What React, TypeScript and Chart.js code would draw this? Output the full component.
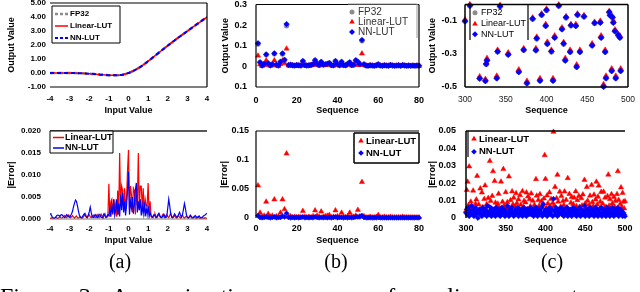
import React, { useEffect, useRef } from 'react';
import { Chart, registerables } from 'chart.js';
Chart.register(...registerables);

const W = 640;
const H = 292;
const SANS = "'Liberation Sans', Arial, sans-serif";
const SERIF = "'Liberation Serif', 'Times New Roman', serif";
const RED = '#ff0000';
const BLUE = '#0000ff';
const GRAY = '#8c8c8c';

// ---------- (a) top: activation output vs input ----------
const inputA = [-4, -3.5, -3, -2.5, -2, -1.5, -1, -0.5, 0, 0.5, 1, 1.5, 2, 2.5, 3, 3.5, 4];
const fp32A = [-0.0001, -0.0008, -0.004, -0.0155, -0.0455, -0.1002, -0.1587, -0.1543, 0, 0.3457, 0.8413, 1.3998, 1.9545, 2.4845, 2.996, 3.4992, 3.9999];
const linA = [-0.0002, -0.0009, -0.0042, -0.0152, -0.0448, -0.0995, -0.1579, -0.1551, 0.0012, 0.3449, 0.8421, 1.4005, 1.9551, 2.4839, 2.9966, 3.4987, 4.0001];
const nnA = [0.0011, -0.0001, -0.0034, -0.0159, -0.0461, -0.1008, -0.1581, -0.1537, 0.0009, 0.3462, 0.8405, 1.4003, 1.9549, 2.4851, 2.9955, 3.4996, 3.9987];

// ---------- (a) bottom: |error| vs input (grid -4..4 step 0.05) ----------
const errInputA = Array.from({ length: 161 }, (_, i) => Math.round((-4 + i * 0.05) * 100) / 100);
const errLinA = [
  0.0002, 0.0001, 0.0003, 0.0002, 0.0001, 0.0003, 0.0004, 0.0002, 0.0001, 0.0003, 0.0005, 0.0003, 0.0002, 0.0004, 0.0006, 0.0008, 0.0005, 0.0003, 0.0006, 0.0009,
  0.0006, 0.0003, 0.0005, 0.0008, 0.0004, 0.0002, 0.0005, 0.0007, 0.0003, 0.0002, 0.0004, 0.0006, 0.0003, 0.0002, 0.0005, 0.0008, 0.0012, 0.0006, 0.0003, 0.0007,
  0.001, 0.0005, 0.0003, 0.0006, 0.0009, 0.0005, 0.0003, 0.0006, 0.001, 0.0006, 0.0003, 0.0007, 0.0011, 0.0006, 0.0003, 0.0008, 0.0012, 0.0005, 0.0004, 0.0006,
  0.008, 0.0005, 0.004, 0.0045, 0.001, 0.0045, 0.002, 0.0035, 0.0005, 0.0065, 0.001, 0.015, 0.003, 0.0075, 0.0065, 0.002, 0.007, 0.003, 0.0045, 0.011,
  0.0157, 0.002, 0.0075, 0.0055, 0.0015, 0.007, 0.0065, 0.001, 0.0075, 0.003, 0.015, 0.002, 0.0075, 0.0075, 0.0025, 0.007, 0.0015, 0.0045, 0.003, 0.003,
  0.0082, 0.001, 0.004, 0.0006, 0.0006, 0.0003, 0.0008, 0.0012, 0.0006, 0.0003, 0.0007, 0.0011, 0.0005, 0.0003, 0.0006, 0.001, 0.0005, 0.0003, 0.0007, 0.001,
  0.0006, 0.0003, 0.0008, 0.0013, 0.0006, 0.0003, 0.0005, 0.0009, 0.0004, 0.0002, 0.0005, 0.0008, 0.0004, 0.0002, 0.0006, 0.0009, 0.0004, 0.0002, 0.0005, 0.0007,
  0.0003, 0.0002, 0.0005, 0.0007, 0.0003, 0.0002, 0.0004, 0.0006, 0.0003, 0.0001, 0.0003, 0.0005, 0.0002, 0.0001, 0.0003, 0.0004, 0.0002, 0.0001, 0.0003, 0.0002,
  0.0001,
];
const errNNA = [
  0.0013, 0.001, 0.0006, 0.0003, 0.0001, 0.0002, 0.0005, 0.0008, 0.0009, 0.0008, 0.0006, 0.0009, 0.001, 0.0008, 0.0005, 0.0003, 0.0006, 0.001, 0.0008, 0.0005,
  0.0004, 0.0008, 0.0012, 0.0018, 0.0028, 0.0036, 0.0043, 0.004, 0.003, 0.0018, 0.0008, 0.0004, 0.0002, 0.0005, 0.0009, 0.0012, 0.0008, 0.0004, 0.0003, 0.0009,
  0.0016, 0.0027, 0.0015, 0.0005, 0.0003, 0.0006, 0.001, 0.0007, 0.0003, 0.0005, 0.0011, 0.0009, 0.0004, 0.0003, 0.0008, 0.0012, 0.0007, 0.0003, 0.0006, 0.001,
  0.0008, 0.0025, 0.0005, 0.003, 0.0012, 0.0045, 0.0008, 0.002, 0.0045, 0.001, 0.0035, 0.0006, 0.0055, 0.002, 0.006, 0.0015, 0.004, 0.0008, 0.003, 0.0065,
  0.0108, 0.001, 0.004, 0.0025, 0.005, 0.0012, 0.0035, 0.0065, 0.0082, 0.0015, 0.004, 0.002, 0.0045, 0.0008, 0.003, 0.0012, 0.0038, 0.0006, 0.0025, 0.001,
  0.003, 0.0005, 0.0015, 0.0008, 0.0003, 0.0006, 0.001, 0.0007, 0.0003, 0.0005, 0.001, 0.0013, 0.0008, 0.0004, 0.0003, 0.0007, 0.0011, 0.0006, 0.0003, 0.0005,
  0.0025, 0.0045, 0.003, 0.0012, 0.0004, 0.0003, 0.0007, 0.0012, 0.0008, 0.0004, 0.0005, 0.001, 0.0015, 0.0009, 0.0004, 0.001, 0.0022, 0.0035, 0.0024, 0.001,
  0.0004, 0.0002, 0.0005, 0.0009, 0.0006, 0.0003, 0.0002, 0.0005, 0.0008, 0.0005, 0.0003, 0.0005, 0.0007, 0.0004, 0.0002, 0.0003, 0.0006, 0.0008, 0.0009, 0.0011,
  0.0013,
];

// ---------- (b) sequence 1..80 ----------
const seqB = Array.from({ length: 80 }, (_, i) => i + 1);
const fp32B = [
  0.108, 0.019, 0.004, 0.011, 0.056, 0.014, 0.005, 0.009, 0.061, 0.008, 0.004, 0.021, 0.06, 0.03, 0.197, 0.006, 0.008, 0.005, 0.004, 0.006,
  0.005, 0.004, 0.025, 0.006, 0.004, 0.005, 0.007, 0.01, 0.029, 0.012, 0.006, 0.021, 0.008, 0.01, 0.012, 0.016, 0.006, 0.005, 0.025, 0.01,
  0.005, 0.021, 0.006, 0.005, 0.012, 0.019, 0.006, 0.008, 0.029, 0.021, 0.01, 0.124, 0.01, 0.004, 0.003, 0.005, 0.004, 0.003, 0.005, 0.01,
  0.004, 0.003, 0.005, 0.004, 0.003, 0.007, 0.004, 0.003, 0.004, 0.005, 0.003, 0.006, 0.004, 0.003, 0.004, 0.003, 0.004, 0.003, 0.004, 0.003,
];
const linB = [
  0.052, 0.01, 0.002, 0.007, 0.028, 0.007, 0.003, 0.005, 0.029, 0.005, 0.002, 0.012, 0.028, 0.015, 0.086, 0.004, 0.005, 0.004, 0.002, 0.005,
  0.003, 0.003, 0.013, 0.004, 0.003, 0.003, 0.006, 0.007, 0.016, 0.008, 0.004, 0.01, 0.006, 0.007, 0.008, 0.011, 0.005, 0.003, 0.012, 0.007,
  0.004, 0.012, 0.004, 0.004, 0.009, 0.01, 0.004, 0.006, 0.025, 0.007, 0.007, 0.062, 0.007, 0.003, 0.002, 0.004, 0.003, 0.002, 0.003, 0.005,
  0.003, 0.002, 0.004, 0.003, 0.002, 0.005, 0.003, 0.002, 0.003, 0.004, 0.002, 0.004, 0.003, 0.002, 0.003, 0.002, 0.003, 0.002, 0.003, 0.002,
];
const nnB = [
  0.112, 0.02, 0.004, 0.012, 0.058, 0.015, 0.005, 0.01, 0.063, 0.008, 0.004, 0.022, 0.063, 0.032, 0.205, 0.006, 0.008, 0.005, 0.004, 0.006,
  0.005, 0.004, 0.026, 0.006, 0.004, 0.005, 0.007, 0.01, 0.03, 0.012, 0.006, 0.022, 0.008, 0.01, 0.012, 0.016, 0.006, 0.005, 0.026, 0.01,
  0.005, 0.022, 0.006, 0.005, 0.012, 0.02, 0.006, 0.008, 0.03, 0.022, 0.01, 0.128, 0.01, 0.004, 0.003, 0.005, 0.004, 0.003, 0.005, 0.01,
  0.004, 0.003, 0.005, 0.004, 0.003, 0.007, 0.004, 0.003, 0.004, 0.005, 0.003, 0.006, 0.004, 0.003, 0.004, 0.003, 0.004, 0.003, 0.004, 0.003,
];
const errLinB = [
  0.056, 0.009, 0.002, 0.004, 0.028, 0.007, 0.002, 0.004, 0.032, 0.003, 0.002, 0.009, 0.032, 0.015, 0.111, 0.002, 0.003, 0.001, 0.002, 0.001,
  0.002, 0.001, 0.012, 0.002, 0.001, 0.002, 0.001, 0.003, 0.013, 0.004, 0.002, 0.011, 0.002, 0.003, 0.004, 0.005, 0.001, 0.002, 0.013, 0.003,
  0.001, 0.009, 0.002, 0.001, 0.003, 0.009, 0.002, 0.002, 0.004, 0.014, 0.003, 0.062, 0.003, 0.001, 0.001, 0.002, 0.001, 0.001, 0.002, 0.005,
  0.001, 0.001, 0.002, 0.001, 0.001, 0.002, 0.001, 0.001, 0.001, 0.001, 0.001, 0.002, 0.001, 0.001, 0.001, 0.001, 0.001, 0.001, 0.001, 0.001,
];
const errNNB = [
  0.004, 0.001, 0.0005, 0.001, 0.002, 0.001, 0.0005, 0.001, 0.002, 0.0005, 0.001, 0.001, 0.003, 0.002, 0.008, 0.001, 0.0005, 0.001, 0.0005, 0.001,
  0.0005, 0.001, 0.002, 0.0005, 0.001, 0.0005, 0.001, 0.0005, 0.002, 0.001, 0.0005, 0.001, 0.0005, 0.001, 0.0005, 0.001, 0.0005, 0.001, 0.002, 0.0005,
  0.001, 0.001, 0.0005, 0.001, 0.0005, 0.001, 0.0005, 0.001, 0.002, 0.002, 0.002, 0.004, 0.001, 0.0005, 0.0005, 0.0005, 0.0005, 0.0005, 0.0005, 0.001,
  0.0005, 0.0005, 0.0005, 0.0005, 0.0005, 0.0005, 0.0005, 0.0005, 0.0005, 0.0005, 0.0005, 0.0005, 0.0005, 0.0005, 0.0005, 0.0005, 0.0005, 0.0005, 0.0005, 0.0005,
];

// ---------- (c) top: sequence 300..500 (visible points) ----------
const seqC = [300, 306, 318, 325, 326, 327, 339, 340, 343, 353, 366, 372, 376, 383, 387, 388, 392, 394, 399, 400, 401, 406, 408, 410, 415, 419, 421, 423, 424, 429, 430, 436, 437, 438, 441, 446, 456, 459, 466, 467, 470, 472, 473, 477, 478, 480, 481, 482, 484, 485, 488, 490, 491];
const fp32C = [-0.1, -0.008, -0.447, -0.462, -0.362, -0.338, -0.445, -0.286, -0.012, -0.302, -0.407, -0.276, -0.476, -0.088, -0.276, -0.207, -0.46, -0.064, -0.128, -0.035, -0.237, -0.286, -0.46, -0.199, -0.009, -0.148, -0.239, -0.338, -0.08, -0.286, -0.128, -0.128, -0.377, -0.064, -0.286, -0.074, -0.247, -0.114, -0.108, -0.199, -0.496, -0.286, -0.445, -0.048, -0.064, -0.401, -0.08, -0.108, -0.16, -0.445, -0.187, -0.199, -0.401];
const linC = [-0.092, 0.0, -0.437, -0.452, -0.352, -0.326, -0.433, -0.276, -0.004, -0.292, -0.395, -0.266, -0.464, -0.08, -0.266, -0.197, -0.448, -0.056, -0.12, -0.027, -0.227, -0.276, -0.448, -0.189, -0.001, -0.14, -0.229, -0.326, -0.072, -0.276, -0.12, -0.12, -0.365, -0.056, -0.276, -0.066, -0.237, -0.106, -0.1, -0.189, -0.484, -0.276, -0.433, -0.04, -0.056, -0.389, -0.072, -0.1, -0.152, -0.433, -0.179, -0.189, -0.389];
const nnC = [-0.101, -0.006, -0.449, -0.463, -0.36, -0.34, -0.447, -0.285, -0.01, -0.304, -0.409, -0.275, -0.478, -0.086, -0.278, -0.205, -0.462, -0.062, -0.13, -0.033, -0.239, -0.284, -0.462, -0.201, -0.007, -0.15, -0.237, -0.34, -0.078, -0.288, -0.126, -0.13, -0.379, -0.062, -0.288, -0.072, -0.249, -0.112, -0.11, -0.201, -0.498, -0.288, -0.447, -0.046, -0.066, -0.403, -0.078, -0.11, -0.162, -0.447, -0.185, -0.201, -0.403];

// ---------- (c) bottom: |error| for sequence 300..500 ----------
const seqE = Array.from({ length: 201 }, (_, i) => 300 + i);
const errLinC = [
  0.0042, 0.0161, 0.0208, 0.0073, 0.0296, 0.0025, 0.0094, 0.0058, 0.0063, 0.0157, 0.0036, 0.0018, 0.0081, 0.0106, 0.0242, 0.0039, 0.0077, 0.0044, 0.0169, 0.0051,
  0.0146, 0.0062, 0.0028, 0.0109, 0.0187, 0.0052, 0.0079, 0.0034, 0.0115, 0.0066, 0.0327, 0.0098, 0.0049, 0.0127, 0.0268, 0.0047, 0.0212, 0.0088, 0.0031, 0.0069,
  0.0082, 0.0139, 0.0056, 0.0024, 0.0209, 0.0041, 0.0093, 0.0281, 0.0072, 0.0033, 0.0148, 0.0061, 0.0091, 0.0027, 0.0238, 0.0059, 0.0102, 0.0046, 0.0153, 0.0078,
  0.0116, 0.0037, 0.0069, 0.0142, 0.0085, 0.0029, 0.0107, 0.0054, 0.0131, 0.0076, 0.0042, 0.0154, 0.0063, 0.0097, 0.0038, 0.0089, 0.0146, 0.0052, 0.0124, 0.0045,
  0.0108, 0.0067, 0.0141, 0.0026, 0.0099, 0.0053, 0.0074, 0.0039, 0.0223, 0.0128, 0.0048, 0.0103, 0.0071, 0.0136, 0.0032, 0.0096, 0.0057, 0.0073, 0.0112, 0.0361,
  0.0224, 0.0058, 0.0129, 0.0083, 0.0039, 0.0147, 0.0068, 0.0109, 0.0045, 0.0086, 0.0495, 0.0072, 0.0178, 0.0041, 0.0113, 0.0248, 0.0094, 0.0036, 0.0151, 0.0064,
  0.0126, 0.0051, 0.0097, 0.0073, 0.0152, 0.0028, 0.0104, 0.0062, 0.0229, 0.0046, 0.0138, 0.0039, 0.0087, 0.0121, 0.0053, 0.0079, 0.0116, 0.0042, 0.0153, 0.0068,
  0.0102, 0.0035, 0.0127, 0.0064, 0.0048, 0.0113, 0.0072, 0.0135, 0.0039, 0.0219, 0.0084, 0.0056, 0.0178, 0.0099, 0.0037, 0.0075, 0.0128, 0.0049, 0.0189, 0.0091,
  0.0068, 0.0134, 0.0043, 0.0106, 0.0208, 0.0077, 0.0122, 0.0186, 0.0051, 0.0094, 0.0149, 0.0036, 0.0082, 0.0151, 0.0059, 0.0117, 0.0063, 0.0041, 0.0125, 0.0249,
  0.0071, 0.0108, 0.0047, 0.0136, 0.0084, 0.0033, 0.0121, 0.0065, 0.0098, 0.0052, 0.0137, 0.0268, 0.0104, 0.0044, 0.0081, 0.0176, 0.0062, 0.0144, 0.0093, 0.0055,
  0.0096,
];
const errNNC = [
  0.003, 0.005, 0.002, 0.006, 0.001, 0.004, 0.003, 0.007, 0.002, 0.005, 0.001, 0.003, 0.006, 0.002, 0.004, 0.0, 0.003, 0.005, 0.002, 0.004,
  0.001, 0.006, 0.003, 0.002, 0.005, 0.004, 0.001, 0.007, 0.003, 0.002, 0.004, 0.006, 0.001, 0.003, 0.005, 0.002, 0.004, 0.001, 0.006, 0.003,
  0.002, 0.005, 0.003, 0.001, 0.004, 0.006, 0.002, 0.003, 0.005, 0.001, 0.004, 0.002, 0.007, 0.003, 0.001, 0.005, 0.002, 0.004, 0.006, 0.003,
  0.001, 0.004, 0.002, 0.005, 0.003, 0.006, 0.001, 0.003, 0.004, 0.002, 0.005, 0.001, 0.003, 0.006, 0.002, 0.004, 0.001, 0.005, 0.003, 0.002,
  0.004, 0.006, 0.002, 0.003, 0.005, 0.001, 0.004, 0.002, 0.006, 0.003, 0.001, 0.005, 0.002, 0.004, 0.003, 0.006, 0.001, 0.008, 0.002, 0.004,
  0.003, 0.005, 0.001, 0.004, 0.002, 0.006, 0.003, 0.002, 0.005, 0.001, 0.011, 0.004, 0.002, 0.006, 0.003, 0.001, 0.005, 0.002, 0.004, 0.003,
  0.006, 0.002, 0.004, 0.001, 0.005, 0.003, 0.002, 0.006, 0.001, 0.004, 0.003, 0.005, 0.002, 0.001, 0.004, 0.006, 0.003, 0.002, 0.005, 0.001,
  0.003, 0.004, 0.002, 0.006, 0.001, 0.005, 0.003, 0.002, 0.004, 0.007, 0.001, 0.003, 0.005, 0.002, 0.004, 0.001, 0.006, 0.003, 0.002, 0.005,
  0.004, 0.001, 0.003, 0.006, 0.002, 0.005, 0.001, 0.004, 0.003, 0.002, 0.006, 0.001, 0.005, 0.003, 0.002, 0.004, 0.001, 0.006, 0.003, 0.002,
  0.005, 0.001, 0.004, 0.003, 0.006, 0.002, 0.001, 0.005, 0.003, 0.004, 0.002, 0.006, 0.001, 0.003, 0.005, 0.002, 0.004, 0.001, 0.003, 0.002,
  0.001,
];

const panelLabels = ['(a)', '(b)', '(c)'];
const captionText = 'Figure 3. Approximation accuracy of nonlinear operators';

// ---------- helpers ----------
const pts = (xs: number[], ys: number[]) => xs.map((x, i) => ({ x, y: ys[i] }));

function drawMarker(ctx: CanvasRenderingContext2D, style: string, x: number, y: number, r: number, color: string) {
  ctx.fillStyle = color;
  ctx.beginPath();
  if (style === 'circle') ctx.arc(x, y, r, 0, Math.PI * 2);
  else if (style === 'triangle') {
    ctx.moveTo(x, y - r);
    ctx.lineTo(x + r * 0.866, y + r * 0.5);
    ctx.lineTo(x - r * 0.866, y + r * 0.5);
    ctx.closePath();
  } else {
    ctx.moveTo(x - r, y);
    ctx.lineTo(x, y - r);
    ctx.lineTo(x + r, y);
    ctx.lineTo(x, y + r);
    ctx.closePath();
  }
  ctx.fill();
}

type Side = { side: 'top' | 'right' | 'bottom' | 'left'; color: string; width: number };

function framePlugin(sides: Side[]) {
  return {
    id: 'frame',
    afterDatasetsDraw(chart: any) {
      const { ctx } = chart;
      const { left, top, right, bottom } = chart.chartArea;
      ctx.save();
      for (const s of sides) {
        ctx.strokeStyle = s.color;
        ctx.lineWidth = s.width;
        ctx.beginPath();
        if (s.side === 'top') { ctx.moveTo(left, top); ctx.lineTo(right, top); }
        if (s.side === 'bottom') { ctx.moveTo(left, bottom); ctx.lineTo(right, bottom); }
        if (s.side === 'left') { ctx.moveTo(left, top); ctx.lineTo(left, bottom); }
        if (s.side === 'right') { ctx.moveTo(right, top); ctx.lineTo(right, bottom); }
        ctx.stroke();
      }
      ctx.restore();
    },
  };
}

type LegItem = { label: string; kind: 'line' | 'point'; color: string; width?: number; dash?: number[]; style?: string; r?: number };
type Leg = {
  box: { x: number; y: number; w: number; h: number };
  sides: string[];
  border: string;
  bw: number;
  fill: boolean;
  rows: number[];
  mx: number;
  mx2?: number;
  tx: number;
  font: string;
  textColor: string;
  items: LegItem[];
};

function legendPlugin(L: Leg) {
  return {
    id: 'boxLegend',
    afterDraw(chart: any) {
      const ctx: CanvasRenderingContext2D = chart.ctx;
      const { x, y, w, h } = L.box;
      ctx.save();
      if (L.fill) { ctx.fillStyle = '#fff'; ctx.fillRect(x, y, w, h); }
      ctx.strokeStyle = L.border;
      ctx.lineWidth = L.bw;
      ctx.beginPath();
      if (L.sides.includes('top')) { ctx.moveTo(x, y); ctx.lineTo(x + w, y); }
      if (L.sides.includes('bottom')) { ctx.moveTo(x, y + h); ctx.lineTo(x + w, y + h); }
      if (L.sides.includes('left')) { ctx.moveTo(x, y); ctx.lineTo(x, y + h); }
      if (L.sides.includes('right')) { ctx.moveTo(x + w, y); ctx.lineTo(x + w, y + h); }
      ctx.stroke();
      ctx.font = L.font;
      ctx.textBaseline = 'middle';
      ctx.textAlign = 'left';
      L.items.forEach((it, i) => {
        const ry = L.rows[i];
        if (it.kind === 'line') {
          ctx.strokeStyle = it.color;
          ctx.lineWidth = it.width || 1.5;
          ctx.setLineDash(it.dash || []);
          ctx.beginPath();
          ctx.moveTo(L.mx, ry);
          ctx.lineTo(L.mx2 || L.mx + 12, ry);
          ctx.stroke();
          ctx.setLineDash([]);
        } else {
          drawMarker(ctx, it.style || 'circle', L.mx, ry, it.r || 2.5, it.color);
        }
        ctx.fillStyle = L.textColor;
        ctx.fillText(it.label, L.tx, ry);
      });
      ctx.restore();
    },
  };
}

type AxisSpec = {
  min: number; max: number; step: number; ticks?: number[];
  fmt: (v: number) => string; font: any; pad: number; color?: string;
  title: string; titlePad: number;
};

const TITLE_FONT = { family: SANS, size: 9, weight: 'bold' as const, lineHeight: 1.2 };

function scaleCfg(a: AxisSpec, axis: 'x' | 'y', size: number) {
  return {
    type: 'linear' as const,
    min: a.min,
    max: a.max,
    border: { display: false },
    grid: { display: false, drawTicks: false },
    ticks: {
      stepSize: a.step,
      autoSkip: false,
      maxRotation: 0,
      padding: a.pad,
      color: a.color || '#000',
      font: a.font,
      callback: (v: any) => a.fmt(Number(v)),
    },
    title: {
      display: true,
      text: a.title,
      color: '#000',
      font: TITLE_FONT,
      padding: axis === 'y' ? { top: a.titlePad, bottom: 0 } : { top: 0, bottom: a.titlePad },
    },
    afterBuildTicks: a.ticks ? (s: any) => { s.ticks = a.ticks!.map((v) => ({ value: v })); } : undefined,
    afterFit: (s: any) => {
      if (axis === 'y') s.width = size; else s.height = size;
      s.paddingTop = 0; s.paddingBottom = 0; s.paddingLeft = 0; s.paddingRight = 0;
    },
  };
}

type Spec = {
  plot: { l: number; t: number; r: number; b: number };
  yw: number; xh: number;
  x: AxisSpec; y: AxisSpec;
  datasets: any[];
  frame: Side[];
  legend: Leg;
};

function build(canvas: HTMLCanvasElement, s: Spec) {
  return new Chart(canvas, {
    type: 'scatter',
    data: { datasets: s.datasets },
    options: {
      responsive: false,
      animation: false,
      events: [],
      layout: { padding: { left: s.plot.l - s.yw, top: s.plot.t, right: W - s.plot.r, bottom: H - s.plot.b - s.xh } },
      plugins: { legend: { display: false }, tooltip: { enabled: false } },
      scales: { x: scaleCfg(s.x, 'x', s.xh) as any, y: scaleCfg(s.y, 'y', s.yw) as any },
    },
    plugins: [framePlugin(s.frame), legendPlugin(s.legend)],
  } as any);
}

const tickA = { family: SANS, size: 8, weight: 'bold' as const };
const tickBC = { family: SANS, size: 9, weight: 'bold' as const };
const trim = (v: number) => String(+v.toFixed(3));
const BLACK = '#000';

function lineDs(label: string, xs: number[], ys: number[], color: string, width: number, dash: number[] = []) {
  return { label, data: pts(xs, ys), showLine: true, pointRadius: 0, borderColor: color, borderWidth: width, borderDash: dash, tension: 0, fill: false };
}
function pointDs(label: string, xs: number[], ys: number[], color: string, style: string, r: number) {
  return { label, data: pts(xs, ys), pointStyle: style, pointRadius: r, backgroundColor: color, borderColor: color, borderWidth: 0.5, clip: false };
}

function makeSpecs(): Spec[] {
  return [
    // (a) top
    {
      plot: { l: 50, t: 3, r: 207, b: 87 }, yw: 50, xh: 29.4,
      x: { min: -4, max: 4, step: 1, fmt: (v) => String(v), font: tickA, pad: 7, title: 'Input Value', titlePad: 0 },
      y: { min: -1, max: 5, step: 1, fmt: (v) => v.toFixed(2), font: tickA, pad: 4, title: 'Output Value', titlePad: 6.3 },
      datasets: [
        { ...lineDs('NN-LUT', inputA, nnA, BLUE, 2, [4, 3]), cubicInterpolationMode: 'monotone' },
        { ...lineDs('Linear-LUT', inputA, linA, RED, 1.5), cubicInterpolationMode: 'monotone' },
        { ...lineDs('FP32', inputA, fp32A, GRAY, 2.5, [5, 3]), cubicInterpolationMode: 'monotone' },
      ],
      frame: [
        { side: 'top', color: BLACK, width: 1.2 },
        { side: 'right', color: BLACK, width: 1.2 },
        { side: 'bottom', color: BLACK, width: 1.2 },
      ],
      legend: {
        box: { x: 52, y: 6, w: 68, h: 37 }, sides: ['top', 'bottom', 'left', 'right'], border: BLACK, bw: 1, fill: true,
        rows: [14, 26, 38], mx: 55, mx2: 68, tx: 70, font: `bold 8px ${SANS}`, textColor: '#000',
        items: [
          { label: 'FP32', kind: 'line', color: GRAY, width: 2.5, dash: [3, 2] },
          { label: 'Linear-LUT', kind: 'line', color: RED, width: 1.5 },
          { label: 'NN-LUT', kind: 'line', color: BLUE, width: 2, dash: [3, 2] },
        ],
      },
    },
    // (a) bottom
    {
      plot: { l: 50, t: 131, r: 207, b: 219 }, yw: 50, xh: 27.1,
      x: { min: -4, max: 4, step: 1, fmt: (v) => String(v), font: tickA, pad: 5, title: 'Input Value', titlePad: 0 },
      y: { min: 0, max: 0.02, step: 0.005, fmt: (v) => v.toFixed(3), font: tickA, pad: 9, title: '|Error|', titlePad: 6.6 },
      datasets: [
        lineDs('NN-LUT', errInputA, errNNA, BLUE, 1.2),
        lineDs('Linear-LUT', errInputA, errLinA, RED, 1.2),
      ],
      frame: [
        { side: 'top', color: '#222', width: 1.5 },
        { side: 'bottom', color: '#777', width: 1 },
      ],
      legend: {
        box: { x: 50, y: 131, w: 63, h: 22 }, sides: ['top', 'bottom', 'left', 'right'], border: BLACK, bw: 1, fill: true,
        rows: [137.5, 148], mx: 53, mx2: 64, tx: 65, font: `bold 9px ${SANS}`, textColor: '#000',
        items: [
          { label: 'Linear-LUT', kind: 'line', color: RED, width: 1.5 },
          { label: 'NN-LUT', kind: 'line', color: BLUE, width: 1.5 },
        ],
      },
    },
    // (b) top
    {
      plot: { l: 256, t: 3, r: 419, b: 87 }, yw: 40, xh: 29.1,
      x: { min: 0, max: 80, step: 20, fmt: (v) => String(v), font: tickBC, pad: 8, title: 'Sequence', titlePad: 0 },
      y: { min: -0.1, max: 0.3, step: 0.1, fmt: (v) => (Math.abs(v) < 1e-9 ? '0' : String(+Math.abs(v).toFixed(2))), font: tickBC, pad: 9, title: 'Output Value', titlePad: 4.1 },
      datasets: [
        pointDs('NN-LUT', seqB, nnB, BLUE, 'rectRot', 2.8),
        pointDs('Linear-LUT', seqB, linB, RED, 'triangle', 3),
        pointDs('FP32', seqB, fp32B, GRAY, 'circle', 2.5),
      ],
      frame: [
        { side: 'top', color: BLACK, width: 1.2 },
        { side: 'right', color: BLACK, width: 1.2 },
        { side: 'bottom', color: BLACK, width: 1.2 },
        { side: 'left', color: BLACK, width: 1.2 },
      ],
      legend: {
        box: { x: 348, y: 4, w: 69, h: 34 }, sides: ['top', 'right'], border: '#999', bw: 1, fill: false,
        rows: [12, 22, 32], mx: 352, tx: 358, font: `10px ${SANS}`, textColor: '#333',
        items: [
          { label: 'FP32', kind: 'point', color: GRAY, style: 'circle', r: 2.5 },
          { label: 'Linear-LUT', kind: 'point', color: RED, style: 'triangle', r: 3.2 },
          { label: 'NN-LUT', kind: 'point', color: BLUE, style: 'rectRot', r: 3 },
        ],
      },
    },
    // (b) bottom
    {
      plot: { l: 256, t: 131, r: 419, b: 218 }, yw: 40, xh: 28.1,
      x: { min: 0, max: 80, step: 20, fmt: (v) => String(v), font: tickBC, pad: 5.5, title: 'Sequence', titlePad: 0 },
      y: { min: 0, max: 0.15, step: 0.05, fmt: trim, font: tickBC, pad: 7, title: '|Error|', titlePad: 3.1 },
      datasets: [
        pointDs('NN-LUT', seqB, errNNB, BLUE, 'rectRot', 2.6),
        pointDs('Linear-LUT', seqB, errLinB, RED, 'triangle', 3),
      ],
      frame: [
        { side: 'top', color: BLACK, width: 1.2 },
        { side: 'left', color: BLACK, width: 1.2 },
      ],
      legend: {
        box: { x: 354, y: 133, w: 65, h: 30 }, sides: ['top', 'bottom', 'left', 'right'], border: BLACK, bw: 1.5, fill: true,
        rows: [141, 153], mx: 361, tx: 366, font: `bold 9.5px ${SANS}`, textColor: '#000',
        items: [
          { label: 'Linear-LUT', kind: 'point', color: RED, style: 'triangle', r: 3.2 },
          { label: 'NN-LUT', kind: 'point', color: BLUE, style: 'rectRot', r: 2.8 },
        ],
      },
    },
    // (c) top
    {
      plot: { l: 465, t: 3, r: 628, b: 87 }, yw: 40, xh: 29.4,
      x: { min: 300, max: 500, step: 50, fmt: (v) => String(v), font: { family: SANS, size: 8.5 }, color: '#222', pad: 8, title: 'Sequence', titlePad: 0 },
      y: { min: -0.5, max: 0, step: 0.2, ticks: [-0.5, -0.3, -0.1], fmt: (v) => v.toFixed(1), font: tickBC, pad: 8, title: 'Output Value', titlePad: 2.6 },
      datasets: [
        pointDs('NN-LUT', seqC, nnC, BLUE, 'rectRot', 3),
        pointDs('Linear-LUT', seqC, linC, RED, 'triangle', 3.2),
        pointDs('FP32', seqC, fp32C, GRAY, 'circle', 2.6),
      ],
      frame: [
        { side: 'top', color: BLACK, width: 1.5 },
        { side: 'right', color: BLACK, width: 1.5 },
        { side: 'bottom', color: BLACK, width: 1.5 },
        { side: 'left', color: BLACK, width: 1.5 },
      ],
      legend: {
        box: { x: 470, y: 4, w: 58, h: 36 }, sides: ['left', 'right'], border: BLACK, bw: 1.2, fill: false,
        rows: [12.7, 24, 34.3], mx: 475, tx: 481, font: `9px ${SANS}`, textColor: '#000',
        items: [
          { label: 'FP32', kind: 'point', color: GRAY, style: 'circle', r: 2.5 },
          { label: 'Linear-LUT', kind: 'point', color: RED, style: 'triangle', r: 3.2 },
          { label: 'NN-LUT', kind: 'point', color: BLUE, style: 'rectRot', r: 3 },
        ],
      },
    },
    // (c) bottom
    {
      plot: { l: 466, t: 131, r: 625, b: 218 }, yw: 40, xh: 28.1,
      x: { min: 300, max: 500, step: 50, fmt: (v) => String(v), font: tickBC, pad: 5.5, title: 'Sequence', titlePad: 0 },
      y: { min: 0, max: 0.05, step: 0.01, fmt: trim, font: tickBC, pad: 10, title: '|Error|', titlePad: 1.6 },
      datasets: [
        pointDs('NN-LUT', seqE, errNNC, BLUE, 'rectRot', 2.6),
        pointDs('Linear-LUT', seqE, errLinC, RED, 'triangle', 3),
      ],
      frame: [
        { side: 'top', color: BLACK, width: 1.5 },
        { side: 'left', color: BLACK, width: 1.5 },
      ],
      legend: {
        box: { x: 468, y: 131, w: 57, h: 26 }, sides: ['left'], border: BLACK, bw: 1.2, fill: false,
        rows: [139, 151.7], mx: 474, tx: 479, font: `bold 9.5px ${SANS}`, textColor: '#000',
        items: [
          { label: 'Linear-LUT', kind: 'point', color: RED, style: 'triangle', r: 3.2 },
          { label: 'NN-LUT', kind: 'point', color: BLUE, style: 'rectRot', r: 2.8 },
        ],
      },
    },
  ];
}

export default function App() {
  const refs = useRef<(HTMLCanvasElement | null)[]>([]);
  useEffect(() => {
    const specs = makeSpecs();
    const charts = specs.map((s, i) => build(refs.current[i] as HTMLCanvasElement, s));
    return () => charts.forEach((c) => c.destroy());
  }, []);
  const labelCenters = [120, 336, 552];
  return (
    <div style={{ position: 'fixed', left: 0, top: 0, width: W, height: H, overflow: 'hidden', background: '#fff' }}>
      {[0, 1, 2, 3, 4, 5].map((i) => (
        <canvas
          key={i}
          ref={(el) => { refs.current[i] = el; }}
          width={W}
          height={H}
          style={{ position: 'absolute', left: 0, top: 0, width: W, height: H, pointerEvents: 'none' }}
        />
      ))}
      {panelLabels.map((t, i) => (
        <div
          key={t}
          style={{ position: 'absolute', left: labelCenters[i] - 30, top: 251, width: 60, textAlign: 'center', fontFamily: SERIF, fontSize: 20, lineHeight: '20px', color: '#000' }}
        >
          {t}
        </div>
      ))}
      <div
        style={{ position: 'absolute', left: 0, top: 284, whiteSpace: 'nowrap', fontFamily: SERIF, fontSize: 24, lineHeight: '24px', wordSpacing: 10, color: '#000' }}
      >
        {captionText}
      </div>
    </div>
  );
}
